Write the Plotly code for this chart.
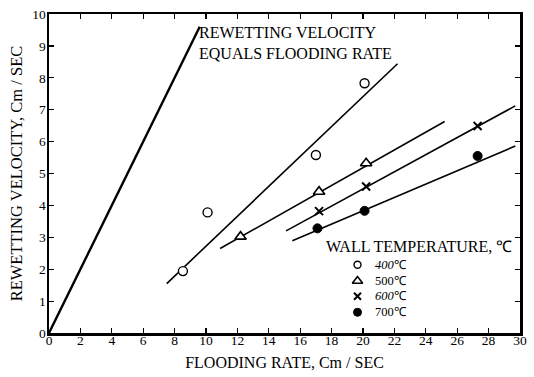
import plotly.graph_objects as go

# ---- data ----
x400 = [8.53, 10.1, 17.0, 20.1]
y400 = [1.94, 3.78, 5.58, 7.83]
x500 = [12.2, 17.2, 20.2]
y500 = [3.02, 4.43, 5.32]
x600 = [17.2, 20.2, 27.3]
y600 = [3.82, 4.59, 6.49]
x700 = [17.1, 20.1, 27.3]
y700 = [3.28, 3.83, 5.55]

# fitted lines (end points)
eq_x = [0, 9.6]
eq_y = [0, 9.6]
fit400_x = [7.5, 22.2]
fit400_y = [1.55, 8.44]
fit500_x = [10.9, 25.2]
fit500_y = [2.65, 6.63]
fit600_x = [15.1, 29.7]
fit600_y = [3.2, 7.12]
fit700_x = [15.5, 29.7]
fit700_y = [2.89, 5.86]

xticks = list(range(0, 31, 2))
yticks = list(range(0, 11))

legend_labels = ["<i>400</i>℃", "500℃", "<i>600</i>℃", "700℃"]
legend_title = "WALL TEMPERATURE, ℃"

SERIF = "Liberation Serif, Times New Roman, serif"

fig = go.Figure()

line_style = dict(color="black", width=1.6)
fig.add_trace(go.Scatter(x=eq_x, y=eq_y, mode="lines",
                         line=dict(color="black", width=2.4), showlegend=False))
for lx, ly in [(fit400_x, fit400_y), (fit500_x, fit500_y),
               (fit600_x, fit600_y), (fit700_x, fit700_y)]:
    fig.add_trace(go.Scatter(x=lx, y=ly, mode="lines", line=line_style,
                             showlegend=False))

m400 = dict(symbol="circle", size=9, color="white", line=dict(color="black", width=1.4))
m500 = dict(symbol="triangle-up", size=10, color="white", line=dict(color="black", width=1.6))
m600 = dict(symbol="x-thin", size=8, color="black", line=dict(color="black", width=2))
m700 = dict(symbol="circle", size=9, color="black", line=dict(color="black", width=1))

for xs, ys, mk in [(x400, y400, m400), (x500, y500, m500),
                   (x600, y600, m600), (x700, y700, m700)]:
    fig.add_trace(go.Scatter(x=xs, y=ys, mode="markers", marker=mk, showlegend=False))

# ---- hand-made legend (keys on an overlay axis in paper-like units) ----
key_x = 0.655
key_ys = [0.214, 0.163, 0.115, 0.065]
key_markers = [dict(m400, size=7), dict(m500, size=9), dict(m600, size=7), dict(m700, size=8)]
for ky, mk in zip(key_ys, key_markers):
    fig.add_trace(go.Scatter(x=[key_x], y=[ky], mode="markers", marker=mk,
                             xaxis="x2", yaxis="y2", showlegend=False,
                             hoverinfo="skip"))
for ky, lab in zip(key_ys, legend_labels):
    fig.add_annotation(x=0.69, y=ky, xref="paper", yref="paper",
                       xanchor="left", yanchor="middle", text=lab, showarrow=False,
                       borderpad=0,
                       font=dict(family=SERIF, size=12.5, color="black"))
fig.add_annotation(x=0.583, y=0.27, xref="paper", yref="paper",
                   xanchor="left", yanchor="middle", text=legend_title, showarrow=False,
                   font=dict(family=SERIF, size=16, color="black"))

fig.add_annotation(x=9.4, y=9.08, xref="x", yref="y", xanchor="left", yanchor="middle",
                   text="REWETTING VELOCITY<br>EQUALS FLOODING RATE",
                   showarrow=False, align="left",
                   font=dict(family=SERIF, size=16, color="black"))

axis_common = dict(showline=True, linecolor="black", linewidth=2.5, mirror="ticks",
                   ticks="inside", ticklen=5, tickwidth=1.2, tickcolor="black",
                   showgrid=False, zeroline=False,
                   tickfont=dict(family=SERIF, size=13.5, color="black"))

fig.update_xaxes(range=[0, 30], tickvals=xticks, ticktext=[str(v) for v in xticks],
                 ticklabelstandoff=-7, ticklabeloverflow="allow",
                 title=dict(text="FLOODING RATE, Cm / SEC", standoff=10,
                            font=dict(family=SERIF, size=16, color="black")),
                 **axis_common)
fig.update_yaxes(range=[0, 10], tickvals=yticks, ticktext=[str(v) for v in yticks],
                 ticklabelstandoff=-2,
                 title=dict(text="REWETTING VELOCITY, Cm / SEC", standoff=6,
                            font=dict(family=SERIF, size=16.5, color="black")),
                 **axis_common)

fig.update_layout(
    width=534, height=377,
    margin=dict(l=49, r=7, t=14, b=44),
    paper_bgcolor="white", plot_bgcolor="white",
    font=dict(family=SERIF, color="black"),
    showlegend=False,
    hovermode=False,
    xaxis2=dict(overlaying="x", range=[0, 1], visible=False, fixedrange=True),
    yaxis2=dict(overlaying="y", range=[0, 1], visible=False, fixedrange=True),
)

fig.write_html("out.html",
               config={"displayModeBar": False, "staticPlot": True},
               post_script="document.body.style.margin='0';document.body.style.overflow='hidden';")
